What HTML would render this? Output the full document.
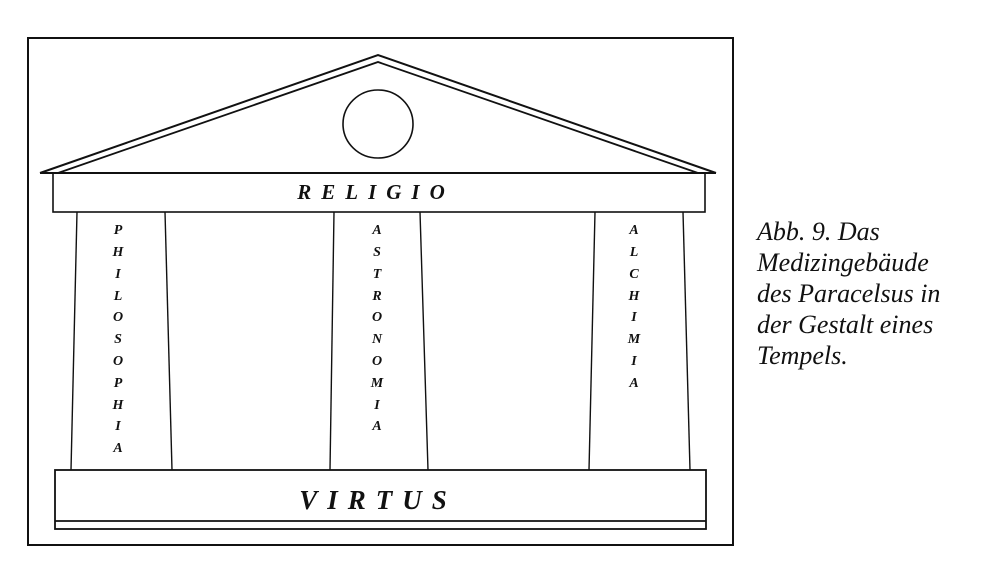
<!DOCTYPE html>
<html><head><meta charset="utf-8"><style>
html,body{margin:0;padding:0;background:#fff;}
body{width:986px;height:576px;overflow:hidden;position:relative;}
svg{position:absolute;left:0;top:0;}
.cap{position:absolute;left:757px;top:216px;font-family:"Liberation Serif",serif;font-style:italic;font-size:26px;line-height:31px;color:#111;white-space:nowrap;}
</style></head><body>
<svg width="986" height="576" viewBox="0 0 986 576">
<g fill="none" stroke="#111" stroke-width="2">
<rect x="28" y="38" width="705" height="507"/>
<polyline points="40,173 378,55 716,173"/>
<polyline points="58,173 378,62 698,173" stroke-width="1.8"/>
<line x1="40" y1="173" x2="716" y2="173"/>
<ellipse cx="378" cy="124" rx="35" ry="34" stroke-width="1.6"/>
<rect x="53" y="173" width="652" height="39" stroke-width="1.6"/>
<g stroke-width="1.4">
<line x1="77" y1="212" x2="71" y2="470"/><line x1="165" y1="212" x2="172" y2="470"/>
<line x1="334" y1="212" x2="330" y2="470"/><line x1="420" y1="212" x2="428" y2="470"/>
<line x1="595" y1="212" x2="589" y2="470"/><line x1="683" y1="212" x2="690" y2="470"/>
</g>
<rect x="55" y="470" width="651" height="59" stroke-width="1.8"/>
<line x1="55" y1="521" x2="706" y2="521" stroke-width="1.8"/>
</g>
<g font-family="Liberation Serif, serif" font-style="italic" font-weight="bold" fill="#111" text-anchor="middle">
<text x="376" y="199" font-size="21" letter-spacing="10">RELIGIO</text>
<text x="378" y="509" font-size="27" letter-spacing="10">VIRTUS</text>
<g font-size="14">
<text x="118" y="234">P</text><text x="118" y="256">H</text><text x="118" y="278">I</text><text x="118" y="300">L</text><text x="118" y="321">O</text><text x="118" y="343">S</text><text x="118" y="365">O</text><text x="118" y="387">P</text><text x="118" y="409">H</text><text x="118" y="430">I</text><text x="118" y="452">A</text>
<text x="377" y="234">A</text><text x="377" y="256">S</text><text x="377" y="278">T</text><text x="377" y="300">R</text><text x="377" y="321">O</text><text x="377" y="343">N</text><text x="377" y="365">O</text><text x="377" y="387">M</text><text x="377" y="409">I</text><text x="377" y="430">A</text>
<text x="634" y="234">A</text><text x="634" y="256">L</text><text x="634" y="278">C</text><text x="634" y="300">H</text><text x="634" y="321">I</text><text x="634" y="343">M</text><text x="634" y="365">I</text><text x="634" y="387">A</text>
</g>
</g>
</svg>
<div class="cap">Abb. 9. Das<br>Medizingebäude<br>des Paracelsus in<br>der Gestalt eines<br>Tempels.</div>
</body></html>
